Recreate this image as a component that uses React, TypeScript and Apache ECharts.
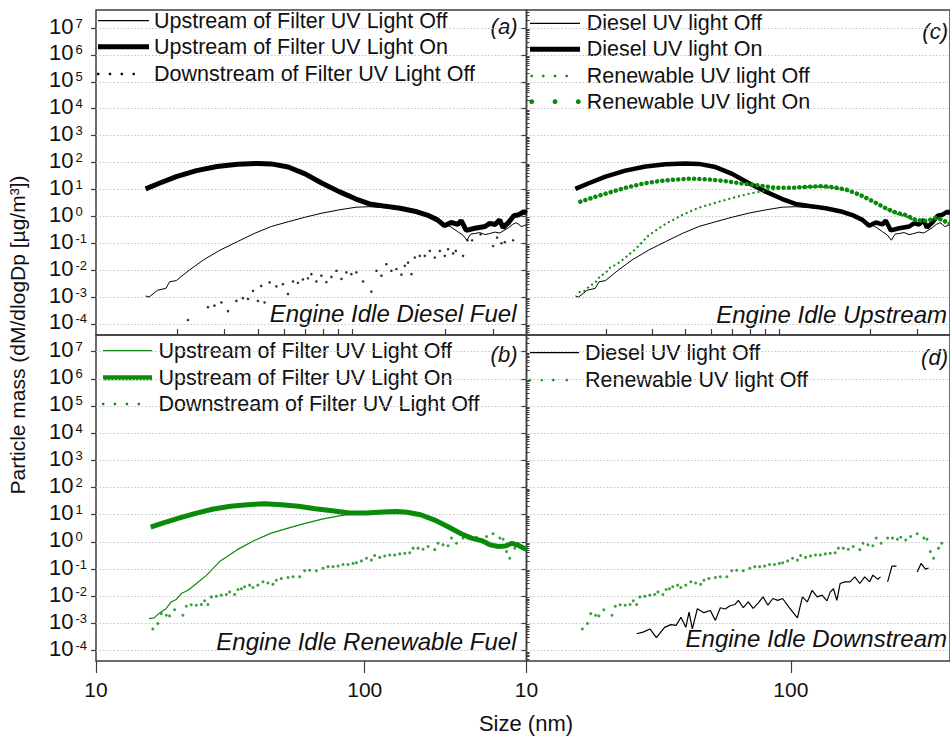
import React, { useEffect, useRef } from 'react';
import * as echarts from 'echarts';

const FONT = '"Liberation Sans", Arial, Helvetica, sans-serif';
const INK = '#111111';
const FRAME = '#3c3c3c';
const GREEN = '#0a8a0a';
const BLACK = '#000000';

// ---- data: [size (nm), particle mass dM/dlogDp (µg/m³)] ----
const DIESEL_UP_OFF: [number, number][] = [
  [15.3, 1.1e-3], [15.75, 1.0e-3], [16.95, 1.8e-3], [18.2, 2.1e-3], [18.8, 3.7e-3], [19.9, 4.1e-3],
  [21.1, 6.6e-3], [22.3, 0.0102], [25.1, 0.024], [29.0, 0.056], [33.6, 0.115], [38.8, 0.23],
  [44.9, 0.42], [51.9, 0.63], [60.0, 0.93], [69.4, 1.32], [80.3, 1.74], [92.8, 2.19], [104, 2.29],
  [124, 2.0], [144, 1.74], [157, 1.45], [166, 1.2], [178, 0.95], [190, 0.65], [208, 0.42],
  [222, 0.27], [232, 0.2], [240, 0.13], [248, 0.22], [257, 0.23], [268, 0.25], [280, 0.21],
  [292, 0.23], [305, 0.26], [318, 0.24], [330, 0.3], [343, 0.38], [355, 0.5], [366, 0.58],
  [375, 0.5], [382, 0.42], [392, 0.45], [400, 0.5],
];

const DIESEL_UP_ON: [number, number][] = [
  [15.3, 10.5], [17.2, 17], [19.9, 30], [23.65, 50], [28.2, 71], [33.6, 87], [40.0, 93], [44.9, 89],
  [51.9, 68], [60.0, 38], [69.4, 17], [80.3, 8.3], [92.8, 4.4], [104.2, 2.9], [117.2, 2.45],
  [135.4, 2.0], [156.6, 1.48], [170.9, 1.12], [186.5, 0.74], [197.9, 0.45], [209.6, 0.59],
  [222.2, 0.5], [228.6, 0.7], [238.8, 0.3], [256.9, 0.36], [280.4, 0.42], [292, 0.55],
  [305.8, 0.5], [318, 0.74], [327, 0.38], [343.4, 0.6], [358.8, 1.05], [374.9, 1.15],
  [391.3, 1.5], [400, 1.3],
];

const DIESEL_DOWN: [number, number | null][] = [
  [21.98, 1.4e-4], [24, null], [26.1, 4.2e-4], [27.6, 4.8e-4], [29.3, 6.3e-4], [31.0, 3.0e-4],
  [33.3, 7.2e-4], [35.2, 9.1e-4], [36.8, 8.5e-4], [38.4, 1.7e-3], [40.05, 7.2e-4], [41.2, 2.6e-3],
  [42.4, 6.3e-4], [44.3, 3.5e-3], [46.9, 2.5e-3], [49.6, 3.0e-3], [51.8, 1.3e-3], [54.1, 3.8e-3],
  [56.4, 3.4e-3], [58.9, 4.5e-3], [61.5, 5.0e-3], [63.3, 7.1e-3], [66.1, 3.8e-3], [69.0, 6.2e-3],
  [72.0, 3.6e-3], [75.2, 5.6e-3], [78.5, 9.5e-3], [81.9, 4.7e-3], [85.5, 8.3e-3], [89.2, 7.1e-3],
  [93.1, 8.3e-3], [98.6, 3.8e-3], [105.9, 1.6e-3], [110.6, 9.5e-3], [115.4, 6.2e-3], [120.4, 0.0166],
  [125.7, 9.5e-3], [131.2, 0.011], [137, 6.8e-3], [141, 0.0145], [145, 0.019], [149.3, 7.1e-3],
  [153.6, 0.0295], [160.3, 0.034], [167.3, 0.034], [174.7, 0.052], [182.3, 0.0295], [190.3, 0.052],
  [198.6, 0.034], [204.3, 0.06], [213.3, 0.042], [218.3, 0.052], [226, null], [232.3, 0.034],
  [241.3, 0.129], [250.9, 0.129], [260, null], [269.8, 0.214], [285, null], [300.5, 0.079],
  [311, 0.162], [322.9, 0.1], [332.1, 0.11], [345, null], [356.7, 0.129],
];

const RENEW_UP_OFF: [number, number][] = [
  [15.75, 1.5e-3], [16.46, 1.6e-3], [17.2, 2.4e-3], [18.22, 3.5e-3], [19.04, 6.2e-3], [19.87, 7.6e-3],
  [20.76, 0.0126], [22.0, 0.0166], [23.65, 0.0295], [25.82, 0.06], [29.02, 0.2], [33.56, 0.52],
  [38.81, 1.12], [44.89, 2.1], [51.87, 3.2], [60.02, 4.8], [69.39, 6.9], [80.27, 9.1], [90.2, 10.7],
  [101.3, 11.5], [113.7, 12.3], [131.5, 12.6], [143.6, 11.5], [161.3, 9.3], [181.2, 6.0],
  [203.5, 3.5], [228.6, 1.9], [249.5, 1.26], [272.1, 1.0], [292.7, 0.71], [314.8, 0.63],
  [333.8, 0.66], [353.5, 0.79], [369.1, 0.71], [391.3, 0.54], [400, 0.5],
];

const RENEW_UP_ON: [number, number][] = [
  [15.98, 3.5], [17.69, 4.9], [20.48, 7.6], [23.65, 11.5], [27.37, 16.2], [31.67, 20.4], [36.6, 23.4],
  [42.36, 25.1], [48.98, 23.4], [56.62, 20.4], [65.48, 16.6], [75.77, 14.1], [87.53, 11.5],
  [101.3, 11.5], [117.2, 12.6], [131.5, 13.2], [143.6, 12.3], [161.3, 10], [181.2, 6.5], [203.5, 3.7],
  [228.6, 2.0], [249.5, 1.38], [272.1, 1.12], [292.7, 0.78], [314.8, 0.68], [333.8, 0.71],
  [353.5, 0.89], [369.1, 0.78], [391.3, 0.59], [400, 0.52],
];

const RENEW_DOWN: [number, number][] = [
  [16.27, 6.3e-4], [16.99, 1.0e-3], [17.49, 2.3e-3], [18.26, 2.0e-3], [18.78, 1.9e-3], [19.61, 3.2e-3],
  [21.05, 2.0e-3], [21.67, 4.3e-3], [22.62, 4.9e-3], [23.62, 4.7e-3], [24.65, 5.0e-3], [25.36, 6.8e-3],
  [26.09, 5.0e-3], [26.86, 9.5e-3], [28.04, 0.01], [29.27, 0.011], [30.55, 0.0117], [31.43, 0.0145],
  [32.81, 0.0117], [33.75, 0.0178], [34.75, 0.019], [35.74, 0.0224], [37.3, 0.0257], [38.37, 0.021],
  [40.05, 0.0257], [41.81, 0.034], [43.64, 0.031], [45.56, 0.0275], [46.9, 0.039], [48.96, 0.0447],
  [51.81, 0.049], [54.08, 0.0525], [57.27, 0.0525], [59.77, 0.087], [62.39, 0.091], [66.07, 0.087],
  [69.94, 0.107], [73.01, 0.123], [76.21, 0.123], [79.56, 0.129], [83.04, 0.148], [86.68, 0.148],
  [90.47, 0.162], [93.14, 0.17], [97.21, 0.2], [101.5, 0.25], [105.9, 0.214], [108.9, 0.316],
  [113.7, 0.269], [118.7, 0.302], [123.9, 0.331], [129.3, 0.331], [135.0, 0.363], [140.9, 0.38],
  [147.1, 0.4], [151.3, 0.59], [157.9, 0.59], [164.9, 0.54], [172.1, 0.68], [182.3, 0.52],
  [187.5, 0.89], [195.7, 0.78], [204.3, 0.72], [210.3, 1.38], [219.5, 0.89], [232.3, 1.38],
  [242.5, 1.38], [253.1, 1.26], [260.6, 1.48], [272.0, 1.17], [284.0, 1.58], [300.5, 2.0],
  [318.3, 1.38], [327.4, 1.26], [337.1, 0.44], [346.7, 0.25], [362.0, 0.59], [372.4, 0.89],
];

// ---- axes ----
const X_RANGE = [10, 400];
const X_MAJOR_TICKS = [10, 100];
const X_MINOR_TICKS = [20, 30, 40, 50, 60, 70, 80, 90, 200, 300, 400];
const Y_DECADES = [-4, -3, -2, -1, 0, 1, 2, 3, 4, 5, 6, 7];
const Y_MINOR_STEPS = [2, 3, 4, 5, 6, 7, 8, 9];
const Y_RANGE_TOP = [Math.pow(10, -4.41), Math.pow(10, 7.67)];
const Y_RANGE_BOTTOM = [Math.pow(10, -4.38), Math.pow(10, 7.61)];

// ---- texts ----
const LEGEND_A = ['Upstream of Filter UV Light Off', 'Upstream of Filter UV Light On', 'Downstream of Filter UV Light Off'];
const LEGEND_B = ['Upstream of Filter UV Light Off', 'Upstream of Filter UV Light On', 'Downstream of Filter UV Light Off'];
const LEGEND_C = ['Diesel UV light Off', 'Diesel UV light On', 'Renewable UV light Off', 'Renewable UV light On'];
const LEGEND_D = ['Diesel UV light Off', 'Renewable UV light Off'];
const NOTES = ['Engine Idle Diesel Fuel', 'Engine Idle Renewable Fuel', 'Engine Idle Upstream', 'Engine Idle Downstream'];
const TAGS = ['(a)', '(b)', '(c)', '(d)'];
const Y_TITLE = 'Particle mass (dM/dlogDp [µg/m³])';
const X_TITLE = 'Size (nm)';

const decadeValues = Y_DECADES.map((e) => Math.pow(10, e));
const minorValues: number[] = [];
for (let e = -5; e <= 7; e++) for (const k of Y_MINOR_STEPS) minorValues.push(k * Math.pow(10, e));

const GRIDS = [
  { left: 96, top: 10, width: 430.5, height: 325 },
  { left: 96, top: 335, width: 430.5, height: 326 },
  { left: 526.5, top: 10, width: 430.5, height: 325 },
  { left: 526.5, top: 335, width: 430.5, height: 326 },
];

function buildOption() {
  const grid = GRIDS.map((g) => ({ ...g, show: true, borderColor: FRAME, borderWidth: 1.5, backgroundColor: 'transparent' }));

  const xMain = (g: number, labels: boolean) => ({
    type: 'log', gridIndex: g, min: X_RANGE[0], max: X_RANGE[1],
    axisLine: { show: false },
    axisTick: { show: labels, length: 12, customValues: X_MAJOR_TICKS, lineStyle: { color: FRAME, width: 1.2 } },
    axisLabel: {
      show: labels, customValues: X_MAJOR_TICKS, margin: 18, fontSize: 21, fontFamily: FONT, color: INK,
      formatter: (v: number) => String(Math.round(v)),
    },
    splitLine: { show: false },
  });
  const xMinor = (g: number) => ({
    type: 'log', gridIndex: g, min: X_RANGE[0], max: X_RANGE[1],
    axisLine: { show: false },
    axisTick: { show: true, length: 6, customValues: X_MINOR_TICKS, lineStyle: { color: FRAME, width: 1.2 } },
    axisLabel: { show: false },
    splitLine: { show: false },
  });
  const yMain = (g: number, range: number[], labels: boolean) => ({
    type: 'log', gridIndex: g, min: range[0], max: range[1],
    axisLine: { show: false },
    axisTick: { show: true, length: 5, customValues: decadeValues, lineStyle: { color: FRAME, width: 1.2 } },
    axisLabel: {
      show: labels, customValues: decadeValues, align: 'left', margin: 47, padding: [0, 0, 4, 0],
      formatter: (v: number) => '{b|10}{s|' + Math.round(Math.log10(v)) + '}',
      rich: {
        b: { fontSize: 22, fontFamily: FONT, color: INK, lineHeight: 19 },
        s: { fontSize: 13, fontFamily: FONT, color: INK, lineHeight: 8, verticalAlign: 'top', padding: [0, 0, 0, 2] },
      },
    },
    splitLine: { show: true, lineStyle: { color: '#c4c4c4', width: 1, type: [1.5, 2] } },
  });
  const yMinor = (g: number, range: number[]) => ({
    type: 'log', gridIndex: g, min: range[0], max: range[1],
    axisLine: { show: false },
    axisTick: { show: true, length: 3, customValues: minorValues, lineStyle: { color: FRAME, width: 1 } },
    axisLabel: { show: false },
    splitLine: { show: false },
  });

  const xAxis = [xMain(0, false), xMain(1, true), xMain(2, false), xMain(3, true), xMinor(1), xMinor(3)];
  const yAxis = [
    yMain(0, Y_RANGE_TOP, true), yMain(1, Y_RANGE_BOTTOM, true), yMain(2, Y_RANGE_TOP, false), yMain(3, Y_RANGE_BOTTOM, false),
    yMinor(0, Y_RANGE_TOP), yMinor(1, Y_RANGE_BOTTOM), yMinor(2, Y_RANGE_TOP), yMinor(3, Y_RANGE_BOTTOM),
  ];

  const line = (name: string, data: any[], i: number, color: string, width: number, extra: any = {}) => ({
    type: 'line', name, data, xAxisIndex: i, yAxisIndex: i, showSymbol: false, symbol: 'none',
    connectNulls: false, silent: true, lineStyle: { color, width, ...extra }, itemStyle: { color },
  });
  const dots = (name: string, data: any[], i: number, color: string, size: number) => ({
    type: 'scatter', name, data: data.filter((p) => p[1] != null), xAxisIndex: i, yAxisIndex: i,
    symbol: 'circle', symbolSize: size, silent: true, itemStyle: { color },
  });

  const series = [
    line('a-off', DIESEL_UP_OFF, 0, BLACK, 1),
    line('a-on', DIESEL_UP_ON, 0, BLACK, 5),
    dots('a-down', DIESEL_DOWN, 0, BLACK, 2.6),
    line('b-off', RENEW_UP_OFF, 1, GREEN, 1.2),
    line('b-on', RENEW_UP_ON, 1, GREEN, 5),
    dots('b-down', RENEW_DOWN, 1, GREEN, 3),
    line('c-doff', DIESEL_UP_OFF, 2, BLACK, 1),
    line('c-don', DIESEL_UP_ON, 2, BLACK, 4.5),
    line('c-roff', RENEW_UP_OFF, 2, GREEN, 2, { type: [2, 3] }),
    line('c-ron', RENEW_UP_ON, 2, GREEN, 4.5, { type: [0.1, 5.2], cap: 'round' }),
    line('d-diesel', DIESEL_DOWN, 3, BLACK, 1.2),
    dots('d-renew', RENEW_DOWN, 3, GREEN, 3),
  ];

  // ---- graphic: legends, notes, titles ----
  const els: any[] = [];
  const txt = (text: string, x: number, y: number, size: number, align: string, italic = false, extra: any = {}) => ({
    type: 'text', x, y, silent: true, ...extra,
    style: {
      text, fill: INK, fontSize: size, fontFamily: FONT, fontStyle: italic ? 'italic' : 'normal',
      align, verticalAlign: 'middle', textAlign: align, textVerticalAlign: 'middle',
    },
  });
  const seg = (x1: number, x2: number, y: number, color: string, w: number) => ({
    type: 'line', silent: true, shape: { x1, y1: y, x2, y2: y }, style: { stroke: color, lineWidth: w },
  });
  const dot = (cx: number, cy: number, r: number, color: string) => ({
    type: 'circle', silent: true, shape: { cx, cy, r }, style: { fill: color },
  });
  type Key = { kind: string; color: string; xs?: number[] };
  const legend = (labels: string[], keys: Key[], x1: number, x2: number, tx: number, ys: number[]) => {
    labels.forEach((label, i) => {
      const k = keys[i];
      const y = ys[i];
      if (k.kind === 'thin') els.push(seg(x1, x2, y, k.color, 1.2));
      else if (k.kind === 'thick') els.push(seg(x1, x2, y, k.color, 5));
      else if (k.kind === 'dots') (k.xs || []).forEach((x) => els.push(dot(x, y, 1.3, k.color)));
      else if (k.kind === 'bigdots') (k.xs || []).forEach((x) => els.push(dot(x, y, 2.4, k.color)));
      els.push(txt(label, tx, y, 21.5, 'left'));
    });
  };
  legend(LEGEND_A, [
    { kind: 'thin', color: BLACK }, { kind: 'thick', color: BLACK },
    { kind: 'dots', color: BLACK, xs: [98.2, 110, 121.8, 133.7] },
  ], 98, 149, 154, [20.7, 46.7, 74]);
  legend(LEGEND_B, [
    { kind: 'thin', color: GREEN }, { kind: 'thick', color: GREEN },
    { kind: 'dots', color: GREEN, xs: [103.2, 115, 126.9, 138.8] },
  ], 103, 152, 158.4, [350.7, 377.7, 404]);
  legend(LEGEND_C, [
    { kind: 'thin', color: BLACK }, { kind: 'thick', color: BLACK },
    { kind: 'dots', color: GREEN, xs: [531.7, 543.3, 555, 566.7] },
    { kind: 'bigdots', color: GREEN, xs: [531.7, 555, 578.3] },
  ], 530, 580, 586.7, [23.3, 49.3, 76, 101.7]);
  legend(LEGEND_D, [
    { kind: 'thin', color: BLACK },
    { kind: 'dots', color: GREEN, xs: [530, 541.7, 553.3, 566.7] },
  ], 530, 579, 585, [352.7, 380]);

  const rights = [517.5, 517.5, 948, 948];
  const noteY = [313, 641, 314, 638];
  const tagY = [26, 354, 31, 357];
  NOTES.forEach((n, i) => els.push(txt(n, rights[i] - 1, noteY[i], 24, 'right', true)));
  TAGS.forEach((t, i) => els.push(txt(t, rights[i], tagY[i], 22, 'right', true)));

  els.push(txt(Y_TITLE, 17.5, 335, 21, 'center', false, { rotation: Math.PI / 2 }));
  els.push(txt(X_TITLE, 526, 723, 22, 'center'));

  return {
    animation: false,
    backgroundColor: '#ffffff',
    grid, xAxis, yAxis, series,
    graphic: { elements: els },
  };
}

export default function App() {
  const ref = useRef<HTMLDivElement>(null);
  useEffect(() => {
    if (!ref.current) return;
    const chart = echarts.init(ref.current, undefined, { renderer: 'svg' });
    chart.setOption(buildOption() as any);
    return () => chart.dispose();
  }, []);
  return <div ref={ref} style={{ position: 'fixed', left: 0, top: 0, width: 950, height: 741, background: '#fff' }} />;
}
